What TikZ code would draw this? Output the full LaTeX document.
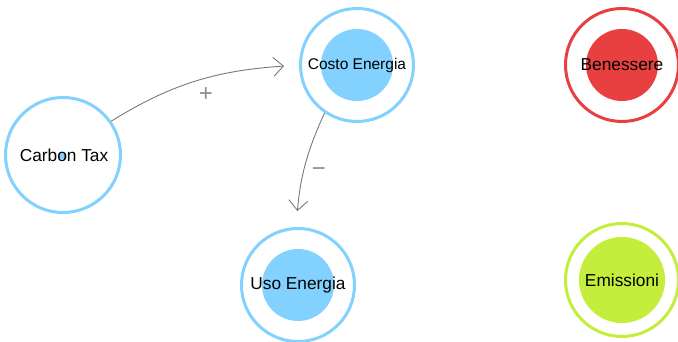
\documentclass[tikz,border=0pt]{standalone}
\usepackage{fontspec}
\setmainfont{Liberation Sans}
\usetikzlibrary{arrows.meta}
\definecolor{cblue}{RGB}{130,209,255}
\definecolor{cred}{RGB}{232,64,64}
\definecolor{cgreen}{RGB}{196,238,60}
\definecolor{cgray}{RGB}{120,120,120}
\tikzset{
  outerring/.style={circle, draw=#1, line width=3pt, fill=white, minimum size=113pt, inner sep=0pt},
  innerdisc/.style={circle, fill=#1, minimum size=72pt, inner sep=0pt},
  txt/.style={font=\fontsize{17.3}{20}\selectfont, text=black, inner sep=0pt},
  conn/.style={draw=cgray, line width=0.9pt, -{Straight Barb[length=10pt,width=19pt,line width=0.9pt]}},
  sign/.style={text=cgray!85, font=\fontsize{24}{26}\selectfont, inner sep=0pt}
}
\begin{document}
\begin{tikzpicture}[x=1pt,y=1pt]
\useasboundingbox (0,0) rectangle (678,342);
% Carbon Tax
\node[outerring=cblue, minimum size=115pt] (carbon) at (63,187) {};
\node[circle, fill=cblue, minimum size=8pt, inner sep=0pt] (dot) at (63,186) {};
\node[txt] (carbontxt) at (64,187) {Carbon Tax};
% Costo Energia
\node[outerring=cblue] (cost) at (357,277) {};
\node[innerdisc=cblue] (costin) at (cost) {};
\node[txt, font=\fontsize{15.5}{18}\selectfont] (costtxt) at (cost) {Costo Energia};
% Uso Energia
\node[outerring=cblue] (uso) at (298,57) {};
\node[innerdisc=cblue] (usoin) at (uso) {};
\node[txt] (usotxt) at (uso) {Uso Energia};
% Benessere
\node[outerring=cred] (ben) at (622,277) {};
\node[innerdisc=cred] (benin) at (ben) {};
\node[txt] (bentxt) at (ben) {Benessere};
% Emissioni
\node[outerring=cgreen] (emi) at (622,62) {};
\node[innerdisc=cgreen, minimum size=86pt] (emiin) at (emi) {};
\node[txt] (emitxt) at (emi) {Emissioni};
% connectors
\draw[conn, shorten >=15pt] (carbon.35) to[out=32, in=184] (cost.180);
\draw[conn, shorten >=16pt] (cost.236) to[out=245, in=85] (uso.92);
\node[sign] (plus) at (206,247) {+};
\node[sign] (minus) at (319,170) {−};
\end{tikzpicture}
\end{document}
